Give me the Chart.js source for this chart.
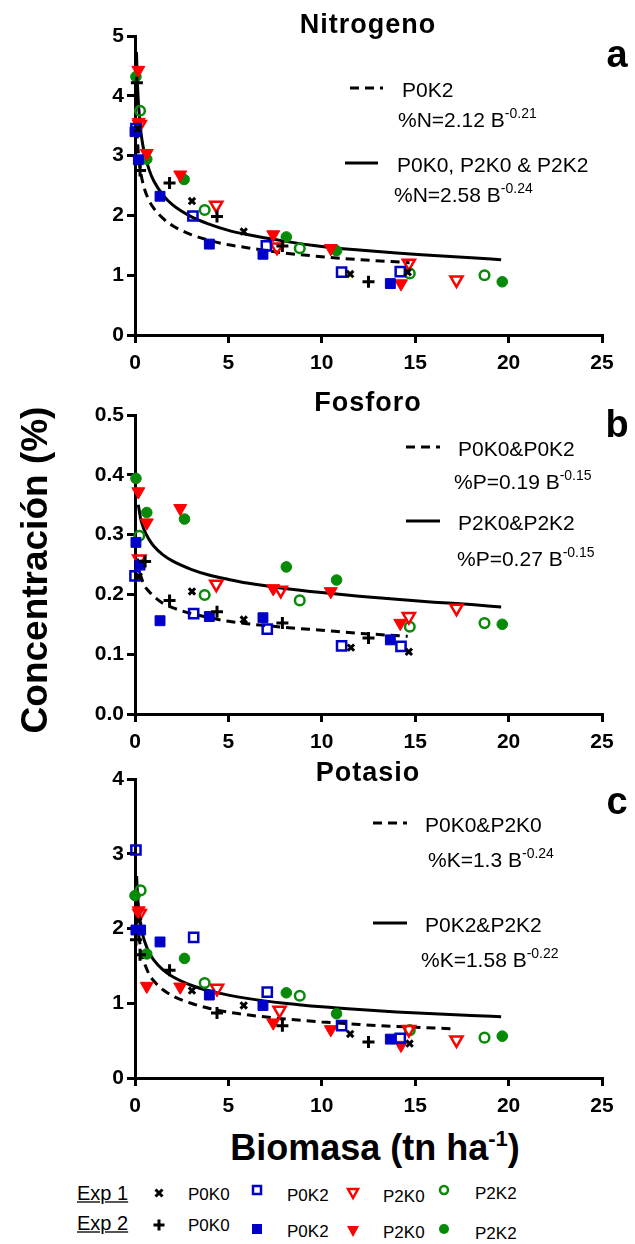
<!DOCTYPE html>
<html>
<head>
<meta charset="utf-8">
<script src="https://cdn.jsdelivr.net/npm/chart.js@4.4.1/dist/chart.umd.min.js"></script>
<style>
  html,body{margin:0;padding:0;background:#fff;}
  #root{position:relative;width:635px;height:1244px;overflow:hidden;background:#fff;
        font-family:'Liberation Sans',Arial,Helvetica,sans-serif;color:#000;}
  canvas{position:absolute;left:0;}
  .t{position:absolute;white-space:nowrap;line-height:1;transform:translateY(-50%);}
  .c{transform:translate(-50%,-50%);}
  .ann{font-size:21px;}
  .ann sup{font-size:14px;vertical-align:0;position:relative;top:-9px;line-height:0;}
  .ptitle{font-size:27px;font-weight:bold;letter-spacing:1px;}
  .plet{font-size:38px;font-weight:bold;}
  .lg{font-size:17px;}
  .exp{font-size:20px;text-decoration:underline;text-decoration-color:#555;}
  svg{position:absolute;overflow:visible;}
</style>
</head>
<body>
<div id="root">
  <canvas id="ca" width="635" height="359" style="top:16px"></canvas>
  <canvas id="cb" width="635" height="359" style="top:395px"></canvas>
  <canvas id="cc" width="635" height="359" style="top:759px"></canvas>

  <!-- panel titles and letters -->
  <div class="t c ptitle" style="left:368px;top:24px">Nitrogeno</div>
  <div class="t c plet" style="left:617px;top:54px">a</div>
  <div class="t c ptitle" style="left:368px;top:402px">Fosforo</div>
  <div class="t c plet" style="left:617px;top:424px">b</div>
  <div class="t c ptitle" style="left:368px;top:772px">Potasio</div>
  <div class="t c plet" style="left:617px;top:801px">c</div>

  <!-- equations panel a -->
  <svg style="left:0;top:0" width="1" height="1"><line x1="350" y1="88" x2="383" y2="88" stroke="#000" stroke-width="3" stroke-dasharray="9,6"/></svg>
  <div class="t ann" style="left:402px;top:89px">P0K2</div>
  <div class="t ann" style="left:398px;top:119px">%N=2.12 B<sup>-0.21</sup></div>
  <svg style="left:0;top:0" width="1" height="1"><line x1="345" y1="163" x2="378" y2="163" stroke="#000" stroke-width="3"/></svg>
  <div class="t ann" style="left:397px;top:164px">P0K0, P2K0 &amp; P2K2</div>
  <div class="t ann" style="left:394px;top:194px">%N=2.58 B<sup>-0.24</sup></div>

  <!-- equations panel b -->
  <svg style="left:0;top:0" width="1" height="1"><line x1="406" y1="447" x2="440" y2="447" stroke="#000" stroke-width="3" stroke-dasharray="9,6"/></svg>
  <div class="t ann" style="left:458px;top:448px">P0K0&amp;P0K2</div>
  <div class="t ann" style="left:454px;top:481px">%P=0.19 B<sup>-0.15</sup></div>
  <svg style="left:0;top:0" width="1" height="1"><line x1="406" y1="521" x2="440" y2="521" stroke="#000" stroke-width="3"/></svg>
  <div class="t ann" style="left:458px;top:522px">P2K0&amp;P2K2</div>
  <div class="t ann" style="left:457px;top:558px">%P=0.27 B<sup>-0.15</sup></div>

  <!-- equations panel c -->
  <svg style="left:0;top:0" width="1" height="1"><line x1="373" y1="823" x2="407" y2="823" stroke="#000" stroke-width="3" stroke-dasharray="9,6"/></svg>
  <div class="t ann" style="left:425px;top:824px">P0K0&amp;P2K0</div>
  <div class="t ann" style="left:428px;top:859px">%K=1.3 B<sup>-0.24</sup></div>
  <svg style="left:0;top:0" width="1" height="1"><line x1="373" y1="923" x2="407" y2="923" stroke="#000" stroke-width="3"/></svg>
  <div class="t ann" style="left:425px;top:924px">P0K2&amp;P2K2</div>
  <div class="t ann" style="left:421px;top:959px">%K=1.58 B<sup>-0.22</sup></div>

  <!-- axis titles -->
  <div class="t" style="left:34px;top:570px;font-size:37px;font-weight:bold;transform:translate(-50%,-50%) rotate(-90deg);">Concentración (%)</div>
  <div class="t c" style="left:375px;top:1148px;font-size:36px;font-weight:bold;">Biomasa (tn ha<sup style="font-size:22px;vertical-align:0;position:relative;top:-14px;line-height:0;">-1</sup>)</div>

  <div id="legend"></div>
</div>

<script>
// ---------------- DATA ----------------
// Nitrogen (%N)
const N_E1_P0K0 = [[0.15,3.45],[3.05,2.24],[5.82,1.73],[11.52,1.02],[14.6,1.05]];
const N_E2_P0K0 = [[0.1,4.22],[0.27,2.75],[1.85,2.54],[4.39,1.98],[7.89,1.49],[12.5,0.89]];
const N_E1_P0K2 = [[0.05,3.45],[3.1,1.99],[7.03,1.49],[11.06,1.05],[14.2,1.06]];
const N_E2_P0K2 = [[0.0,3.4],[0.18,2.93],[1.34,2.32],[3.98,1.52],[6.85,1.35],[13.67,0.86]];
const N_E1_P2K0 = [[0.25,3.52],[4.35,2.17],[7.6,1.47],[14.66,1.2],[17.21,0.92]];
const N_E2_P2K0 = [[0.18,4.43],[0.2,3.56],[0.63,3.04],[2.42,2.68],[7.4,1.68],[10.48,1.45],[14.24,0.86]];
const N_E1_P2K2 = [[0.27,3.75],[3.73,2.09],[8.82,1.45],[14.71,1.03],[18.71,1.0]];
const N_E2_P2K2 = [[0.05,4.32],[0.63,2.94],[2.63,2.6],[8.1,1.64],[10.79,1.41],[19.66,0.89]];
const N_FIT_DASH  = [[0.1,3.44],[0.15,3.16],[0.2,2.97],[0.3,2.73],[0.4,2.57],[0.5,2.45],[0.75,2.25],[1,2.12],[1.5,1.95],[2,1.83],[3,1.68],[4,1.58],[5,1.51],[6,1.46],[8,1.37],[10,1.31],[12,1.26],[14.7,1.21]];
const N_FIT_SOLID = [[0.08,4.73],[0.1,4.48],[0.15,4.07],[0.2,3.80],[0.3,3.44],[0.4,3.21],[0.5,3.05],[0.75,2.77],[1,2.58],[1.5,2.34],[2,2.18],[3,1.98],[4,1.85],[5,1.75],[6,1.68],[8,1.57],[10,1.48],[12,1.42],[14,1.37],[16,1.33],[18,1.29],[19.6,1.26]];

// Phosphorus (%P)
const P_E1_P0K0 = [[0.2,0.23],[3.05,0.205],[5.82,0.158],[11.56,0.111],[14.66,0.104]];
const P_E2_P0K0 = [[0.54,0.255],[1.85,0.19],[4.39,0.171],[7.89,0.152],[12.5,0.127]];
const P_E1_P0K2 = [[0.0,0.231],[3.14,0.168],[7.08,0.142],[11.06,0.114],[14.24,0.113]];
const P_E2_P0K2 = [[0.05,0.287],[0.27,0.249],[1.34,0.156],[3.98,0.163],[6.85,0.161],[13.67,0.124]];
const P_E1_P2K0 = [[0.23,0.259],[4.35,0.217],[7.8,0.207],[14.66,0.163],[17.21,0.177]];
const P_E2_P2K0 = [[0.18,0.372],[0.63,0.32],[2.42,0.344],[7.4,0.21],[10.48,0.205],[14.2,0.152]];
const P_E1_P2K2 = [[0.23,0.298],[3.73,0.199],[8.82,0.19],[14.71,0.146],[18.71,0.152]];
const P_E2_P2K2 = [[0.05,0.394],[0.63,0.337],[2.65,0.326],[8.1,0.246],[10.79,0.224],[19.66,0.15]];
const P_FIT_DASH  = [[0.12,0.26],[0.2,0.245],[0.3,0.232],[0.5,0.215],[0.75,0.205],[1,0.197],[1.5,0.185],[2,0.178],[3,0.168],[4,0.161],[5,0.155],[6,0.151],[8,0.145],[10,0.140],[12,0.135],[14.6,0.130]];
const P_FIT_SOLID = [[0.177,0.35],[0.3,0.327],[0.5,0.307],[0.75,0.292],[1,0.281],[1.5,0.266],[2,0.256],[3,0.242],[4,0.232],[5,0.225],[6,0.219],[8,0.210],[10,0.203],[12,0.197],[14,0.192],[16,0.187],[18,0.183],[19.6,0.179]];

// Potassium (%K)
const K_E1_P0K0 = [[0.18,2.1],[3.05,1.17],[5.82,0.97],[11.52,0.59],[14.7,0.46]];
const K_E2_P0K0 = [[0.05,1.85],[0.27,1.65],[1.85,1.44],[4.39,0.87],[7.89,0.7],[12.5,0.48]];
const K_E1_P0K2 = [[0.05,3.05],[3.14,1.88],[7.08,1.15],[11.06,0.70],[14.2,0.53]];
const K_E2_P0K2 = [[0.05,1.98],[0.3,1.98],[1.34,1.82],[3.98,1.11],[6.85,0.97],[13.67,0.52]];
const K_E1_P2K0 = [[0.25,2.2],[4.39,1.2],[7.74,0.905],[14.66,0.65],[17.21,0.51]];
const K_E2_P2K0 = [[0.2,2.24],[0.63,1.23],[2.42,1.22],[7.4,0.74],[10.48,0.65],[14.24,0.44]];
const K_E1_P2K2 = [[0.3,2.51],[3.73,1.27],[8.82,1.1],[14.71,0.64],[18.71,0.54]];
const K_E2_P2K2 = [[0.0,2.44],[0.63,1.66],[2.65,1.6],[8.1,1.14],[10.79,0.86],[19.66,0.56]];
const K_FIT_DASH  = [[0.2,1.91],[0.3,1.74],[0.4,1.62],[0.5,1.54],[0.75,1.39],[1,1.30],[1.5,1.18],[2,1.10],[3,1.00],[4,0.93],[5,0.88],[6,0.845],[8,0.79],[10,0.75],[12,0.716],[14,0.69],[17.1,0.658]];
const K_FIT_SOLID = [[0.0875,2.70],[0.1,2.62],[0.15,2.40],[0.2,2.25],[0.3,2.06],[0.4,1.93],[0.5,1.84],[0.75,1.68],[1,1.58],[1.5,1.445],[2,1.357],[3,1.241],[4,1.165],[5,1.109],[6,1.065],[8,1.0],[10,0.952],[12,0.915],[14,0.884],[16,0.859],[18,0.837],[19.6,0.821]];

// Axis ticks
const X_TICKS = [0,5,10,15,20,25];
const N_Y_TICKS = [0,1,2,3,4,5];
const P_Y_TICKS = [0.0,0.1,0.2,0.3,0.4,0.5];
const K_Y_TICKS = [0,1,2,3,4];

// ---------------- STYLE ----------------
const FONT = "'Liberation Sans', Arial, Helvetica, sans-serif";
const BLUE = '#0000C8', RED = '#FF0000', GREEN = '#078A07', BLACK = '#000000';
const STYLES = {
  E1_P0K0: {pointStyle:'crossRot', radius:4.5, color:BLACK, fill:false, bw:3},
  E2_P0K0: {pointStyle:'cross',    radius:6,   color:BLACK, fill:false, bw:3},
  E1_P0K2: {pointStyle:'rect',     radius:6.5, color:BLUE,  fill:false, bw:2.5},
  E2_P0K2: {pointStyle:'rect',     radius:7,   color:BLUE,  fill:true,  bw:1},
  E1_P2K0: {pointStyle:'triangle', radius:7,   color:RED,   fill:false, bw:2.5, rot:180},
  E2_P2K0: {pointStyle:'triangle', radius:7.5, color:RED,   fill:true,  bw:1, rot:180},
  E1_P2K2: {pointStyle:'circle',   radius:4.8, color:GREEN, fill:false, bw:2.5},
  E2_P2K2: {pointStyle:'circle',   radius:5.3, color:GREEN, fill:true,  bw:1}
};

const toXY = arr => arr.map(p => ({x:p[0], y:p[1]}));

function pointSet(key, arr){
  const s = STYLES[key];
  return {
    data: toXY(arr), showLine:false, clip:false, order:0,
    pointStyle:s.pointStyle, pointRadius:s.radius, pointRotation:s.rot||0,
    pointBorderColor:s.color, pointBackgroundColor: s.fill ? s.color : 'rgba(255,255,255,0)',
    pointBorderWidth:s.bw, pointHoverRadius:s.radius
  };
}
function curveSet(arr, dashed){
  return {
    data: toXY(arr), showLine:true, clip:false, order:5,
    pointRadius:0, pointHoverRadius:0,
    borderColor:BLACK, borderWidth:3, borderDash: dashed ? [9,6] : [],
    tension:0.4, cubicInterpolationMode:'monotone', fill:false
  };
}

function makePanel(id, sets, dash, solid, yTicks, fmt){
  const tickFont = {family:FONT, size:21, weight:'bold'};
  const axisCommon = {
    grid:{display:true, drawOnChartArea:false, drawTicks:true, tickLength:8, tickWidth:3, lineWidth:3, color:BLACK},
    border:{display:true, width:3, color:BLACK}
  };
  const datasets = [
    pointSet('E1_P0K0', sets[0]), pointSet('E2_P0K0', sets[1]),
    pointSet('E1_P0K2', sets[2]), pointSet('E2_P0K2', sets[3]),
    pointSet('E1_P2K0', sets[4]), pointSet('E2_P2K0', sets[5]),
    pointSet('E1_P2K2', sets[6]), pointSet('E2_P2K2', sets[7]),
    curveSet(dash, true), curveSet(solid, false)
  ];
  new Chart(document.getElementById(id), {
    type:'scatter',
    data:{datasets},
    options:{
      responsive:false, animation:false, devicePixelRatio:1,
      layout:{padding:{top:20, right:33, left:0, bottom:0}},
      plugins:{legend:{display:false}, tooltip:{enabled:false}, title:{display:false}},
      events:[],
      scales:{
        x:Object.assign({
          type:'linear', min:X_TICKS[0], max:X_TICKS[X_TICKS.length-1],
          afterBuildTicks: s => { s.ticks = X_TICKS.map(v => ({value:v})); },
          afterFit: s => { s.height = 40; },
          ticks:{font:tickFont, color:BLACK, padding:8, maxRotation:0, autoSkip:false, callback:v => String(v)}
        }, axisCommon),
        y:Object.assign({
          type:'linear', min:yTicks[0], max:yTicks[yTicks.length-1],
          afterBuildTicks: s => { s.ticks = yTicks.map(v => ({value:v})); },
          afterFit: s => { s.width = 135; },
          ticks:{font:tickFont, color:BLACK, padding:3, autoSkip:false, callback:fmt}
        }, axisCommon)
      }
    }
  });
}

makePanel('ca', [N_E1_P0K0,N_E2_P0K0,N_E1_P0K2,N_E2_P0K2,N_E1_P2K0,N_E2_P2K0,N_E1_P2K2,N_E2_P2K2], N_FIT_DASH, N_FIT_SOLID, N_Y_TICKS, v => String(Math.round(v)));
makePanel('cb', [P_E1_P0K0,P_E2_P0K0,P_E1_P0K2,P_E2_P0K2,P_E1_P2K0,P_E2_P2K0,P_E1_P2K2,P_E2_P2K2], P_FIT_DASH, P_FIT_SOLID, P_Y_TICKS, v => Number(v).toFixed(1));
makePanel('cc', [K_E1_P0K0,K_E2_P0K0,K_E1_P0K2,K_E2_P0K2,K_E1_P2K0,K_E2_P2K0,K_E1_P2K2,K_E2_P2K2], K_FIT_DASH, K_FIT_SOLID, K_Y_TICKS, v => String(Math.round(v)));

// ---------------- LEGEND (HTML) ----------------
const LEGEND_ROWS = [
  {label:'Exp 1', y:1193, items:[['E1_P0K0','P0K0'],['E1_P0K2','P0K2'],['E1_P2K0','P2K0'],['E1_P2K2','P2K2']]},
  {label:'Exp 2', y:1223, items:[['E2_P0K0','P0K0'],['E2_P0K2','P0K2'],['E2_P2K0','P2K0'],['E2_P2K2','P2K2']]}
];
function markerSVG(key){
  const s = STYLES[key];
  const c = s.color;
  switch(s.pointStyle){
    case 'crossRot': return `<line x1="-3.5" y1="-3.5" x2="3.5" y2="3.5" stroke="${c}" stroke-width="3"/><line x1="-3.5" y1="3.5" x2="3.5" y2="-3.5" stroke="${c}" stroke-width="3"/>`;
    case 'cross': return `<line x1="-5.5" y1="0" x2="5.5" y2="0" stroke="${c}" stroke-width="3"/><line x1="0" y1="-5.5" x2="0" y2="5.5" stroke="${c}" stroke-width="3"/>`;
    case 'rect': return s.fill ? `<rect x="-5" y="-5" width="10" height="10" fill="${c}"/>` : `<rect x="-4" y="-4" width="8" height="8" fill="none" stroke="${c}" stroke-width="2.5"/>`;
    case 'triangle': return s.fill ? `<polygon points="-6,-5 6,-5 0,6" fill="${c}"/>` : `<polygon points="-5,-4 5,-4 0,5" fill="none" stroke="${c}" stroke-width="2.5"/>`;
    case 'circle': return s.fill ? `<circle r="5" fill="${c}"/>` : `<circle r="4" fill="none" stroke="${c}" stroke-width="2.5"/>`;
  }
  return '';
}
const LEGEND_MX = [159, 257, 353, 444];
const LEGEND_TX = [188, 287, 383, 475];
const LEGEND_DY = [[0,1],[-3,2],[0,3],[-3,0]];
const LEGEND_DY2 = [[2,2],[6,8],[8,9],[6,10]];
let html = '';
LEGEND_ROWS.forEach((row, r) => {
  html += `<div class="t exp" style="left:77px;top:${row.y}px">${row.label}</div>`;
  row.items.forEach((it, i) => {
    const d = r === 0 ? LEGEND_DY[i] : LEGEND_DY2[i];
    html += `<svg style="left:${LEGEND_MX[i]}px;top:${row.y + d[0]}px" width="1" height="1">${markerSVG(it[0])}</svg>`;
    html += `<div class="t lg" style="left:${LEGEND_TX[i]}px;top:${row.y + d[1]}px">${it[1]}</div>`;
  });
});
document.getElementById('legend').innerHTML = html;
</script>
</body>
</html>
